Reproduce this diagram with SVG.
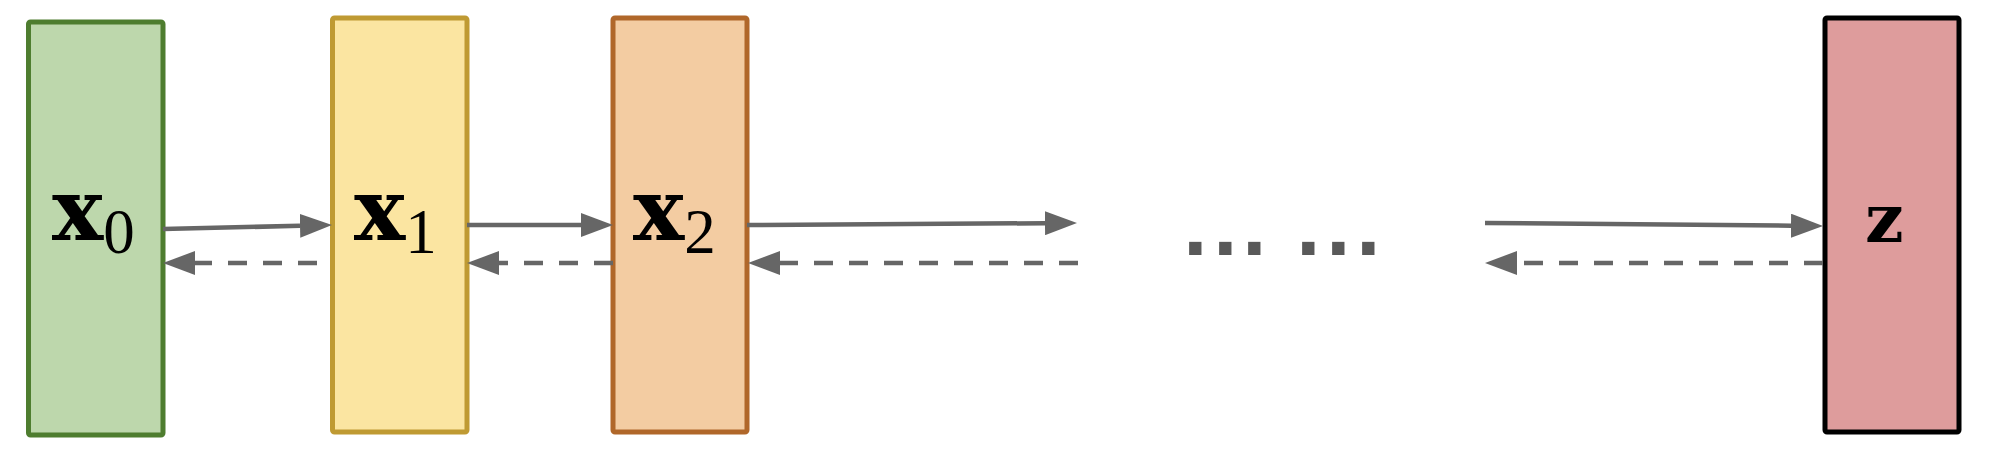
<svg xmlns="http://www.w3.org/2000/svg" width="1994" height="462" viewBox="0 0 1994 462">
<style>
.box{stroke-width:5}
.lbl{font-family:"Liberation Serif","Times New Roman",serif;fill:#000}
.b{font-family:"DejaVu Serif","Liberation Serif",serif;font-weight:bold;font-size:86px}
.sub{font-size:63px}
.ln{fill:none;stroke:#666666;stroke-width:4.5}
.dash{stroke-dasharray:19 16}
.dots{font-family:"DejaVu Sans",sans-serif;font-weight:bold;font-size:70px;fill:#595959}
</style>
<defs>
<marker id="ah" viewBox="0 0 32 24" markerWidth="32" markerHeight="24" refX="0" refY="12" orient="auto" markerUnits="userSpaceOnUse">
<path d="M0,0 L32,12 L0,24 Z" fill="#666666"/>
</marker>
</defs>
<g id="node-x0">
<rect class="box" x="28.5" y="22" width="134.5" height="413" rx="2" fill="#bdd7ac" stroke="#4e7d2f"/>
<text class="lbl" x="52" y="240"><tspan class="b">x</tspan><tspan class="sub" dy="13">0</tspan></text>
</g>
<g id="node-x1">
<rect class="box" x="332.5" y="18" width="134.5" height="414" rx="2" fill="#fbe5a1" stroke="#bf9a33"/>
<text class="lbl" x="354" y="240"><tspan class="b">x</tspan><tspan class="sub" dy="13">1</tspan></text>
</g>
<g id="node-x2">
<rect class="box" x="613" y="18" width="134" height="414" rx="2" fill="#f3cca2" stroke="#b0672a"/>
<text class="lbl" x="633" y="240"><tspan class="b">x</tspan><tspan class="sub" dy="13">2</tspan></text>
</g>
<g id="node-z">
<rect class="box" x="1825" y="18" width="134" height="414" rx="2" fill="#de9c9c" stroke="#000000"/>
<text class="lbl b" x="1865" y="242" style="font-size:68px">z</text>
</g>
<g id="ellipsis">
<text class="dots" x="1182 1212 1241 1270 1295 1325 1355" y="255">... ...</text>
</g>
<g id="connectors">
<path class="ln" d="M163,229 L300,225.8" marker-end="url(#ah)"/>
<path class="ln" d="M467,225 L581,225" marker-end="url(#ah)"/>
<path class="ln" d="M747,225 L1045,223.2" marker-end="url(#ah)"/>
<path class="ln" d="M1485,223 L1791,225.7" marker-end="url(#ah)"/>
<path class="ln dash" d="M317,263 L195,263" marker-end="url(#ah)"/>
<path class="ln dash" d="M613,263 L499,263" marker-end="url(#ah)"/>
<path class="ln dash" d="M1078,263 L780,263" marker-end="url(#ah)"/>
<path class="ln dash" d="M1823,263 L1517,263" marker-end="url(#ah)"/>
</g>
</svg>
